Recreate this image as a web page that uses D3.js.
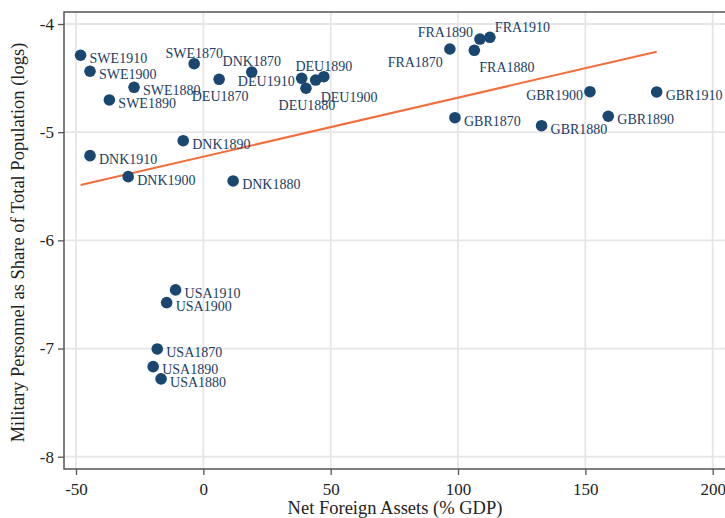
<!DOCTYPE html>
<html>
<head>
<meta charset="utf-8">
<script src="https://cdn.jsdelivr.net/npm/d3@7"></script>
<style>
  html, body { margin: 0; padding: 0; background: #fff; }
  svg { display: block; font-family: "Liberation Serif", "DejaVu Serif", serif; }
</style>
</head>
<body>
<svg id="chart" width="725" height="518"></svg>
<script>
// Country-year observations
const labels = [
  "SWE1870","SWE1880","SWE1890","SWE1900","SWE1910",
  "DNK1870","DNK1880","DNK1890","DNK1900","DNK1910",
  "DEU1870","DEU1880","DEU1890","DEU1900","DEU1910",
  "FRA1870","FRA1880","FRA1890","FRA1910",
  "GBR1870","GBR1880","GBR1890","GBR1900","GBR1910",
  "USA1870","USA1880","USA1890","USA1900","USA1910"
];
// Net foreign assets, % of GDP
const netForeignAssets = [
  -3.6, -27.2, -36.9, -44.5, -48.2,
  19.0, 11.7, -7.9, -29.5, -44.5,
  6.2, 40.3, 47.3, 44.1, 38.6,
  96.8, 106.4, 108.6, 112.5,
  98.8, 132.8, 159.0, 151.8, 178.0,
  -18.1, -16.6, -19.7, -14.4, -10.9
];
// Military personnel as share of total population (logs)
const militaryShare = [
  -4.367, -4.585, -4.702, -4.437, -4.289,
  -4.444, -5.451, -5.079, -5.411, -5.217,
  -4.511, -4.594, -4.487, -4.518, -4.502,
  -4.231, -4.243, -4.139, -4.123,
  -4.866, -4.940, -4.853, -4.626, -4.628,
  -7.004, -7.281, -7.167, -6.576, -6.458
];
// Linear fit: intercept and slope
const fitIntercept = -5.226;
const fitSlope = 0.00545;

const xTicks = [-50, 0, 50, 100, 150, 200];
const yTicks = [-8, -7, -6, -5, -4];
const xTitle = "Net Foreign Assets (% GDP)";
const yTitle = "Military Personnel as Share of Total Population (logs)";

// Marker-label clock positions (default 3 o'clock)
const labelClock = {
  SWE1870: 12, DNK1870: 12, DEU1890: 12,
  DEU1870: 6, DEU1880: 6,
  DEU1910: 9, GBR1900: 9,
  DEU1900: 5, FRA1880: 5,
  FRA1870: 8, FRA1890: 11, FRA1910: 1
};
const clockOffset = {
  3:  { anchor: "start",  dx: 9,  dy: 3 },
  9:  { anchor: "end",    dx: -7, dy: 3 },
  12: { anchor: "middle", dx: 0,  dy: -11 },
  6:  { anchor: "middle", dx: 1,  dy: 17 },
  5:  { anchor: "start",  dx: 5,  dy: 17 },
  8:  { anchor: "end",    dx: -7, dy: 13 },
  11: { anchor: "end",    dx: -7, dy: -7 },
  1:  { anchor: "start",  dx: 5,  dy: -10 }
};

const data = labels.map((name, i) => ({
  name, x: netForeignAssets[i], y: militaryShare[i]
}));

const svg = d3.select("#chart");
const frame = { left: 64, top: 12, right: 740, bottom: 469 };

const x = d3.scaleLinear().domain([-50, 200]).range([76, 712.7]);
const y = d3.scaleLinear().domain([-8, -4]).range([456.7, 24]);

const navy = "#1a476f";
const gridColor = "#e6e6e6";
const axisColor = "#555";

// Grid lines
const grid = svg.append("g");
grid.selectAll("line.gx").data(xTicks).join("line")
  .attr("x1", d => x(d)).attr("x2", d => x(d))
  .attr("y1", frame.top).attr("y2", frame.bottom)
  .attr("stroke", gridColor).attr("stroke-width", 1.8);
grid.selectAll("line.gy").data(yTicks).join("line")
  .attr("y1", d => y(d)).attr("y2", d => y(d))
  .attr("x1", frame.left).attr("x2", frame.right)
  .attr("stroke", gridColor).attr("stroke-width", 1.8);

// Plot frame
svg.append("rect")
  .attr("x", frame.left).attr("y", frame.top)
  .attr("width", frame.right - frame.left).attr("height", frame.bottom - frame.top)
  .attr("fill", "none").attr("stroke", axisColor).attr("stroke-width", 1.5);

// Axes
const xAxis = svg.append("g")
  .attr("transform", `translate(0,${frame.bottom})`)
  .call(d3.axisBottom(x).tickValues(xTicks).tickSize(6).tickPadding(5));
const yAxis = svg.append("g")
  .attr("transform", `translate(${frame.left},0)`)
  .call(d3.axisLeft(y).tickValues(yTicks).tickSize(6).tickPadding(4));
xAxis.select(".domain").remove();
yAxis.select(".domain").remove();
xAxis.selectAll("text").text(d => String(d));
yAxis.selectAll("text").text(d => String(d));
[xAxis, yAxis].forEach(g => {
  g.selectAll("line").attr("stroke", axisColor).attr("stroke-width", 1.3);
  g.selectAll("text").attr("fill", "#222").style("font-size", "17px")
    .style("font-family", "'Liberation Serif', serif");
});
xAxis.selectAll("text").attr("dy", "0.9em");

// Axis titles
svg.append("text")
  .attr("x", 395).attr("y", 514)
  .attr("text-anchor", "middle").attr("fill", "#222")
  .style("font-size", "18.5px").text(xTitle);
svg.append("text")
  .attr("transform", `translate(24,${(frame.top + frame.bottom) / 2 + 2}) rotate(-90)`)
  .attr("text-anchor", "middle").attr("fill", "#222")
  .style("font-size", "18.5px").text(yTitle);

// Fitted line over the range of observed x
const xExt = d3.extent(netForeignAssets);
svg.append("line")
  .attr("x1", x(xExt[0])).attr("y1", y(fitIntercept + fitSlope * xExt[0]))
  .attr("x2", x(xExt[1])).attr("y2", y(fitIntercept + fitSlope * xExt[1]))
  .attr("stroke", "#f36d3d").attr("stroke-width", 2);

// Markers
svg.append("g").selectAll("circle").data(data).join("circle")
  .attr("cx", d => x(d.x)).attr("cy", d => y(d.y))
  .attr("r", 5.8).attr("fill", navy);

// Marker labels
svg.append("g").selectAll("text").data(data).join("text")
  .each(function (d) {
    const o = clockOffset[labelClock[d.name] || 3];
    d3.select(this)
      .attr("x", x(d.x) + o.dx)
      .attr("y", y(d.y) + o.dy)
      .attr("dy", "0.35em")
      .attr("text-anchor", o.anchor);
  })
  .attr("fill", "#223d63")
  .style("font-size", "14px")
  .text(d => d.name);
</script>
</body>
</html>
